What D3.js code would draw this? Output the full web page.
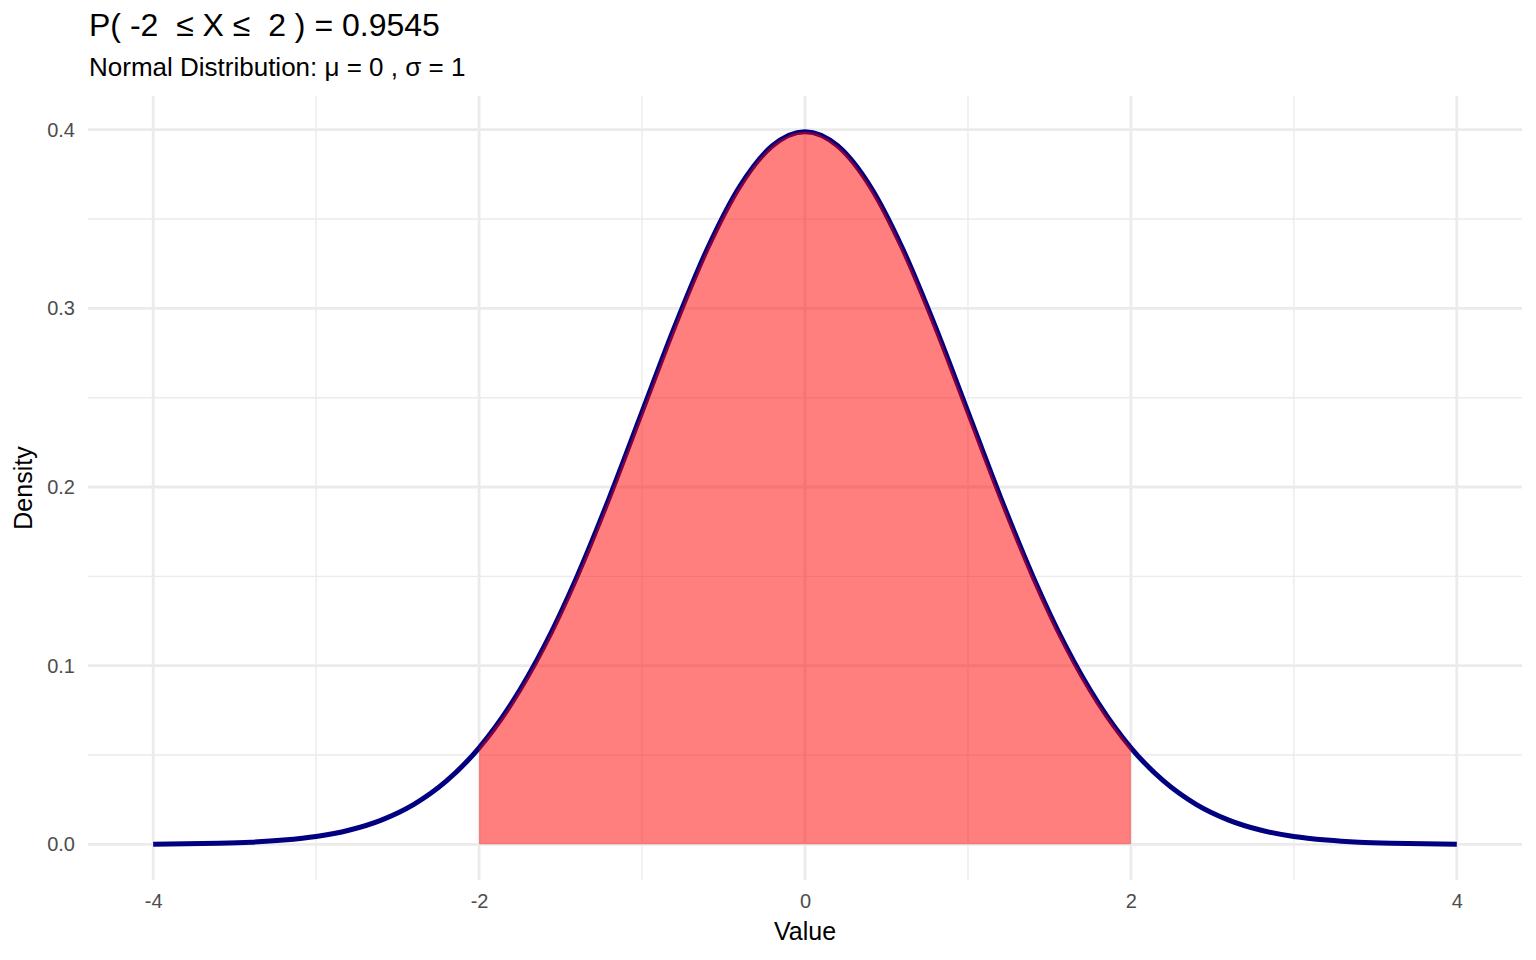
<!DOCTYPE html>
<html>
<head>
<meta charset="utf-8">
<script src="https://cdn.jsdelivr.net/npm/d3@7"></script>
<style>
  body { margin: 0; background: #fff; }
  text { font-family: "Liberation Sans", Arial, sans-serif; }
</style>
</head>
<body>
<div id="chart"></div>
<script>
// values
const xValues = [-4, -3.8, -3.6, -3.4, -3.2, -3, -2.8, -2.6, -2.4, -2.2, -2, -1.8, -1.6, -1.4, -1.2, -1, -0.8, -0.6, -0.4, -0.2,
  0, 0.2, 0.4, 0.6, 0.8, 1, 1.2, 1.4, 1.6, 1.8, 2, 2.2, 2.4, 2.6, 2.8, 3, 3.2, 3.4, 3.6, 3.8, 4];
const densityValues = [0.0001, 0.0003, 0.0006, 0.0012, 0.0024, 0.0044, 0.0079, 0.0136, 0.0224, 0.0355, 0.0540, 0.0790, 0.1109, 0.1497, 0.1942, 0.2420, 0.2897, 0.3332, 0.3683, 0.3910,
  0.3989, 0.3910, 0.3683, 0.3332, 0.2897, 0.2420, 0.1942, 0.1497, 0.1109, 0.0790, 0.0540, 0.0355, 0.0224, 0.0136, 0.0079, 0.0044, 0.0024, 0.0012, 0.0006, 0.0003, 0.0001];
const shadeFrom = -2;
const shadeTo = 2;
const xTicks = [-4, -2, 0, 2, 4];
const xMinor = [-3, -1, 1, 3];
const yTicks = [0, 0.1, 0.2, 0.3, 0.4];
const yMinor = [0.05, 0.15, 0.25, 0.35];
const titleText = "P( -2  \u2264 X \u2264  2 ) = 0.9545";
const subtitleText = "Normal Distribution: \u03bc = 0 , \u03c3 = 1";

const width = 1536;
const height = 960;
const margin = { top: 96, right: 14, bottom: 80, left: 88 };

const points = xValues.map((x, i) => ({ x: x, y: densityValues[i] }));

const svg = d3.select("#chart")
  .append("svg")
  .attr("width", width)
  .attr("height", height);

// 5% expansion like ggplot
const xScale = d3.scaleLinear()
  .domain([-4.4, 4.4])
  .range([margin.left, width - margin.right]);

const yMax = d3.max(densityValues);
const yScale = d3.scaleLinear()
  .domain([-yMax * 0.05, yMax * 1.05])
  .range([height - margin.bottom, margin.top]);

const grid = svg.append("g");

// minor grid
grid.selectAll(".vminor").data(xMinor).enter().append("line")
  .attr("x1", d => xScale(d)).attr("x2", d => xScale(d))
  .attr("y1", margin.top).attr("y2", height - margin.bottom)
  .attr("stroke", "#ebebeb").attr("stroke-width", 1.4);
grid.selectAll(".hminor").data(yMinor).enter().append("line")
  .attr("y1", d => yScale(d)).attr("y2", d => yScale(d))
  .attr("x1", margin.left).attr("x2", width - margin.right)
  .attr("stroke", "#ebebeb").attr("stroke-width", 1.4);

// major grid
grid.selectAll(".vmajor").data(xTicks).enter().append("line")
  .attr("x1", d => xScale(d)).attr("x2", d => xScale(d))
  .attr("y1", margin.top).attr("y2", height - margin.bottom)
  .attr("stroke", "#ebebeb").attr("stroke-width", 2.8);
grid.selectAll(".hmajor").data(yTicks).enter().append("line")
  .attr("y1", d => yScale(d)).attr("y2", d => yScale(d))
  .attr("x1", margin.left).attr("x2", width - margin.right)
  .attr("stroke", "#ebebeb").attr("stroke-width", 2.8);

// density curve
const line = d3.line()
  .x(d => xScale(d.x))
  .y(d => yScale(d.y))
  .curve(d3.curveMonotoneX);

svg.append("path")
  .datum(points)
  .attr("d", line)
  .attr("fill", "none")
  .attr("stroke", "#000080")
  .attr("stroke-width", 5)
  .attr("stroke-linejoin", "round");

// shaded region drawn on top, semi transparent
const area = d3.area()
  .x(d => xScale(d.x))
  .y0(yScale(0))
  .y1(d => yScale(d.y))
  .curve(d3.curveMonotoneX);

svg.append("path")
  .datum(points.filter(d => d.x >= shadeFrom && d.x <= shadeTo))
  .attr("d", area)
  .attr("fill", "red")
  .attr("fill-opacity", 0.5);

// axes (labels only)
const xAxis = svg.append("g")
  .attr("transform", `translate(0,${height - margin.bottom})`)
  .call(d3.axisBottom(xScale).tickValues(xTicks).tickFormat(d => String(d)).tickSize(0).tickPadding(14));
xAxis.select(".domain").remove();
xAxis.selectAll("text").style("font-size", "20px").attr("fill", "#4d4d4d")
  .style("font-family", "'Liberation Sans', Arial, sans-serif");

const yAxis = svg.append("g")
  .attr("transform", `translate(${margin.left},0)`)
  .call(d3.axisLeft(yScale).tickValues(yTicks).tickFormat(d3.format(".1f")).tickSize(0).tickPadding(13));
yAxis.select(".domain").remove();
yAxis.selectAll("text").style("font-size", "20px").attr("fill", "#4d4d4d")
  .style("font-family", "'Liberation Sans', Arial, sans-serif");

// axis titles
svg.append("text")
  .attr("x", xScale(0))
  .attr("y", 940)
  .attr("text-anchor", "middle")
  .style("font-size", "25px")
  .text("Value");

svg.append("text")
  .attr("transform", `translate(32,${(margin.top + height - margin.bottom) / 2}) rotate(-90)`)
  .attr("text-anchor", "middle")
  .style("font-size", "25px")
  .text("Density");

// titles
svg.append("text")
  .attr("x", 89)
  .attr("y", 36)
  .style("font-size", "32px")
  .style("white-space", "pre")
  .text(titleText);

svg.append("text")
  .attr("x", 89)
  .attr("y", 76)
  .style("font-size", "26px")
  .style("white-space", "pre")
  .text(subtitleText);
</script>
</body>
</html>
